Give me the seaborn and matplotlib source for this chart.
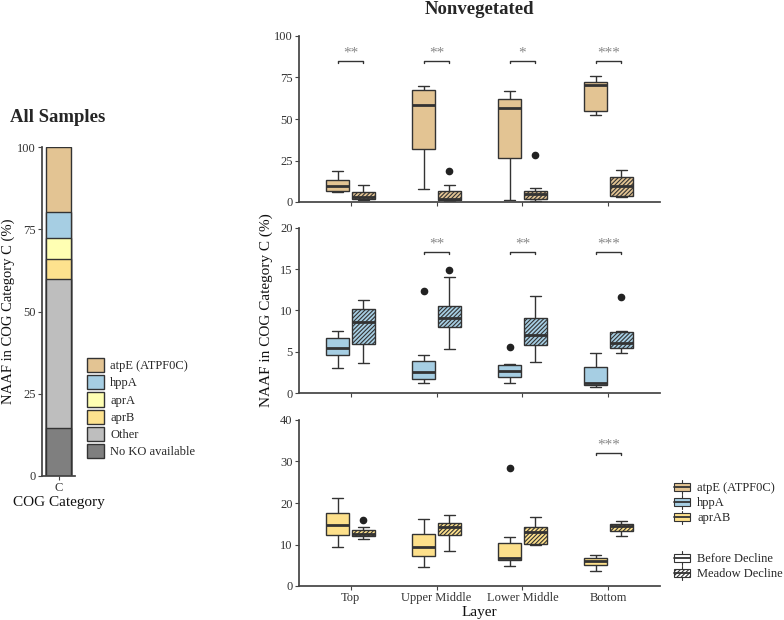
import numpy as np
import pandas as pd
import matplotlib
matplotlib.use("Agg")
import matplotlib.pyplot as plt
import seaborn as sns
from matplotlib.patches import Patch, Rectangle
from matplotlib.lines import Line2D
from matplotlib.legend_handler import HandlerBase

# ---------------- data ----------------
layers = ["Top", "Upper Middle", "Lower Middle", "Bottom"]
statuses = ["Before Decline", "Meadow Decline"]

# All samples stacked composition (% of COG C)
comp_names = ["atpE (ATPF0C)", "hppA", "aprA", "aprB", "Other", "No KO available"]
comp_values = [19.7, 7.9, 6.3, 6.2, 45.2, 14.7]
comp_colors = ["#E3C493", "#A6CEE3", "#FFFFB3", "#FDE28E", "#BEBEBE", "#7F7F7F"]

# per-sample NAAF values, one list per layer (Top, Upper Middle, Lower Middle, Bottom)
atpE_before = [[6.2, 6.4, 6.6, 8.1, 9.6, 11.3, 13.1, 15.9, 18.7],
               [7.8, 20.5, 31.9, 45.0, 58.4, 63.0, 67.5, 68.7, 69.9],
               [1.4, 14.0, 26.7, 41.5, 56.8, 59.5, 62.2, 64.6, 67.1],
               [52.6, 53.8, 55.0, 63.0, 70.5, 71.4, 72.3, 74.1, 75.9]]
atpE_decline = [[1.4, 1.7, 2.0, 2.5, 3.0, 4.6, 6.2, 8.2, 10.2],
                [0.4, 0.9, 1.4, 1.7, 2.0, 4.3, 6.6, 10.2, 18.5],
                [0.6, 1.3, 2.0, 3.3, 4.6, 5.5, 6.4, 8.4, 28.5],
                [3.0, 3.4, 3.8, 6.7, 9.6, 12.3, 15.1, 17.2, 19.3]]
hppA_before = [[3.0, 3.8, 4.6, 5.0, 5.4, 6.0, 6.7, 7.1, 7.5],
               [1.2, 1.45, 1.7, 2.1, 2.5, 3.2, 3.85, 4.55, 12.4],
               [1.25, 1.6, 1.95, 2.3, 2.65, 3.0, 3.35, 3.47, 5.6],
               [0.77, 0.87, 0.97, 1.1, 1.25, 2.2, 3.15, 4.0, 4.85]]
hppA_decline = [[3.65, 4.8, 6.0, 7.3, 8.55, 9.4, 10.2, 10.7, 11.25],
                [5.35, 6.7, 8.05, 8.6, 9.15, 9.9, 10.6, 14.0, 14.95],
                [3.8, 4.8, 5.8, 6.4, 7.0, 8.0, 9.05, 10.4, 11.8],
                [4.8, 5.1, 5.45, 5.75, 6.05, 6.75, 7.45, 7.55, 11.6]]
aprAB_before = [[9.5, 11.0, 12.4, 13.6, 14.8, 16.1, 17.5, 19.4, 21.3],
                [4.6, 6.0, 7.3, 8.4, 9.5, 11.0, 12.6, 14.4, 16.2],
                [4.7, 5.5, 6.3, 6.55, 6.8, 8.6, 10.4, 11.8, 28.4],
                [3.5, 4.3, 5.1, 5.6, 6.1, 6.45, 6.8, 7.1, 7.4]]
aprAB_decline = [[11.4, 11.7, 12.0, 12.3, 12.6, 13.0, 13.4, 14.1, 15.8],
                 [8.4, 10.4, 12.3, 13.3, 14.3, 14.7, 15.1, 16.0, 17.0],
                 [9.8, 10.0, 10.2, 11.5, 12.9, 13.6, 14.3, 15.5, 16.7],
                 [12.0, 12.6, 13.2, 13.8, 14.4, 14.7, 15.0, 15.35, 15.7]]

genes = ["atpE (ATPF0C)", "hppA", "aprAB"]
gene_colors = ["#E3C493", "#A6CEE3", "#FDE08B"]
gene_data = [(atpE_before, atpE_decline), (hppA_before, hppA_decline),
             (aprAB_before, aprAB_decline)]
ylims = [100, 20, 40]
yticks = [[0, 25, 50, 75, 100], [0, 5, 10, 15, 20], [0, 10, 20, 30, 40]]
sig_atpE = ["**", "**", "*", "***"]
sig_hppA = ["", "**", "**", "***"]
sig_aprAB = ["", "", "", "***"]
sig_labels = [sig_atpE, sig_hppA, sig_aprAB]
sig_heights = [84.8, 17.05, 32.0]

HATCH = "////////"

# ---------------- style ----------------
sns.set_theme(style="ticks")
plt.rcParams["font.family"] = ["Liberation Serif", "DejaVu Serif"]
plt.rcParams["hatch.linewidth"] = 0.8
plt.rcParams["axes.edgecolor"] = "#444444"
plt.rcParams["xtick.color"] = "#444444"
plt.rcParams["ytick.color"] = "#444444"
plt.rcParams["xtick.labelcolor"] = "#333333"
plt.rcParams["ytick.labelcolor"] = "#333333"
plt.rcParams["axes.labelcolor"] = "#111111"

EDGE = "#333333"
W, H = 784, 620
fig = plt.figure(figsize=(7.84, 6.2), dpi=100)


def fx(px):
    return px / W


def fy(py):
    return 1 - py / H


# ---------------- left panel: stacked bar ----------------
ax0 = fig.add_axes([fx(42), fy(476), fx(75) - fx(42), fy(147) - fy(476)])
cum = np.cumsum(comp_values[::-1])[::-1]  # top of each segment
for name, top, col in zip(comp_names, cum, comp_colors):
    sns.barplot(x=["C"], y=[top], color=col, width=0.9, edgecolor=EDGE,
                linewidth=1.0, saturation=1, ax=ax0)
ax0.set_xlim(-0.6, 0.6)
ax0.set_ylim(0, 100)
ax0.set_yticks([0, 25, 50, 75, 100])
ax0.set_xlabel("COG Category", fontsize=11, labelpad=1)
ax0.set_ylabel("NAAF in COG Category C (%)", fontsize=10.5)
ax0.yaxis.set_label_coords((15.5 - 42) / 33, 0.5)
ax0.tick_params(labelsize=9, length=3, width=0.8, pad=1.5)
sns.despine(ax=ax0)
fig.text(fx(10), fy(118), "All Samples", fontsize=13.5, fontweight="bold",
         ha="left", va="center")
handles = [Patch(facecolor=c, edgecolor=EDGE, linewidth=1.0) for c in comp_colors]
fig.legend(handles, comp_names, loc="upper left", bbox_to_anchor=(fx(87), fy(358)),
           frameon=False, fontsize=9, handlelength=1.36, handleheight=1.36,
           labelspacing=0.24, handletextpad=0.5, borderpad=0, borderaxespad=0)

# ---------------- right panels: boxplots ----------------
panel_px = [(36, 202), (228, 393), (420, 586)]
axes = []
for k, (gene, col, (bef, dec)) in enumerate(zip(genes, gene_colors, gene_data)):
    top_px, bot_px = panel_px[k]
    ax = fig.add_axes([fx(299), fy(bot_px), fx(660) - fx(299), fy(top_px) - fy(bot_px)])
    rows = []
    for status, arr in zip(statuses, (bef, dec)):
        for layer, vals in zip(layers, arr):
            for v in vals:
                rows.append((layer, status, v))
    df = pd.DataFrame(rows, columns=["Layer", "Status", "NAAF"])
    sns.boxplot(data=df, x="Layer", y="NAAF", hue="Status", order=layers,
                hue_order=statuses, palette=[col, col], width=0.6, gap=0.1,
                saturation=1, linecolor=EDGE, linewidth=1.0, fliersize=4.5,
                legend=False, ax=ax,
                medianprops=dict(linewidth=2.0, color=EDGE),
                flierprops=dict(marker="o", markerfacecolor="#222222",
                                markeredgecolor="#222222"))
    for p in ax.patches:
        ext = p.get_path().get_extents()
        cx = (ext.x0 + ext.x1) / 2
        if cx - round(cx) > 0:
            p.set_hatch(HATCH)
    ax.set_xlim(-0.6, 3.6)
    ax.set_ylim(0, ylims[k])
    ax.set_yticks(yticks[k])
    ax.tick_params(labelsize=9, length=3, width=0.8, pad=1.5)
    sns.despine(ax=ax)
    # significance brackets
    h = sig_heights[k]
    d = ylims[k] * 2.0 / 166
    for i, s in enumerate(sig_labels[k]):
        if s:
            ax.plot([i - 0.15, i - 0.15, i + 0.15, i + 0.15], [h - d, h, h, h - d],
                    color=EDGE, lw=1.0)
            ax.annotate(s, xy=(i, h), xytext=(0, 1), textcoords="offset points",
                        ha="center", va="bottom", fontsize=11, color="#888888")
    if k < 2:
        ax.tick_params(labelbottom=False)
        ax.set_xlabel("")
    else:
        ax.set_xlabel("Layer", fontsize=11, labelpad=1)
    if k == 1:
        ax.set_ylabel("NAAF in COG Category C (%)", fontsize=11, labelpad=5)
    else:
        ax.set_ylabel("")
    axes.append(ax)

fig.text(fx(479.5), fy(10), "Nonvegetated", fontsize=13.5, fontweight="bold",
         ha="center", va="center")


# ---------------- right legends with boxplot glyphs ----------------
class BoxGlyph(HandlerBase):
    def create_artists(self, legend, orig_handle, xdescent, ydescent, width,
                       height, fontsize, trans):
        x0, y0 = -xdescent, -ydescent
        fc = orig_handle.get_facecolor()
        hatch = orig_handle.get_hatch()
        bh = height * 0.56
        by = y0 + (height - bh) / 2
        cx = x0 + width / 2
        rect = Rectangle((x0, by), width, bh, facecolor=fc, edgecolor=EDGE,
                         hatch=hatch, lw=0.8, transform=trans)
        med = Line2D([x0, x0 + width], [y0 + height / 2] * 2, color=EDGE,
                     lw=1.3, transform=trans)
        w1 = Line2D([cx, cx], [y0, by], color=EDGE, lw=0.8, transform=trans)
        w2 = Line2D([cx, cx], [by + bh, y0 + height], color=EDGE, lw=0.8,
                    transform=trans)
        return [rect, med, w1, w2]


gene_handles = [Patch(facecolor=c, edgecolor=EDGE) for c in gene_colors]
fig.legend(gene_handles, genes, handler_map={Patch: BoxGlyph()},
           loc="upper left", bbox_to_anchor=(fx(674), fy(480)), frameon=False,
           fontsize=9, handlelength=1.3, handleheight=1.3, labelspacing=0.1,
           handletextpad=0.55, borderpad=0, borderaxespad=0)
status_handles = [Patch(facecolor="white", edgecolor=EDGE),
                  Patch(facecolor="white", edgecolor=EDGE, hatch=HATCH)]
fig.legend(status_handles, statuses, handler_map={Patch: BoxGlyph()},
           loc="upper left", bbox_to_anchor=(fx(674), fy(551)), frameon=False,
           fontsize=9, handlelength=1.3, handleheight=1.3, labelspacing=0.1,
           handletextpad=0.55, borderpad=0, borderaxespad=0)

fig.savefig("out.png", dpi=100)
